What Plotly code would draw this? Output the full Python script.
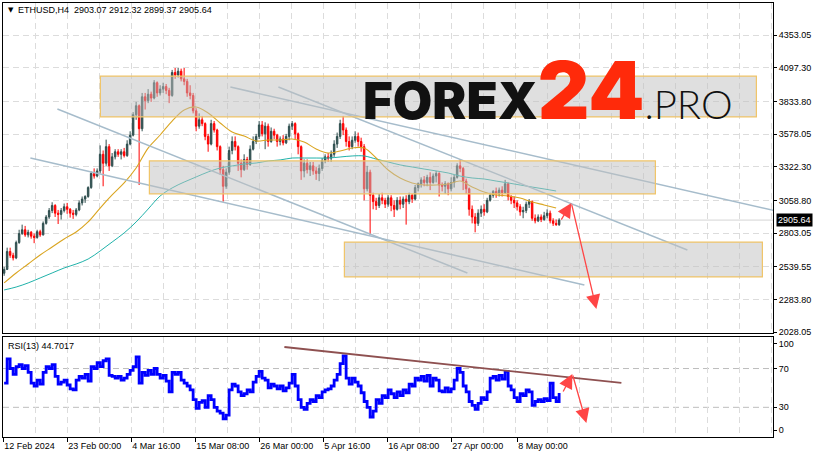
import pandas as pd
import plotly.graph_objects as go

# ---------------- data ----------------
bar_start = "2024-02-12 12:00"   # 12h bars
opens = [2490,2520,2660,2630,2610,2730,2800,2830,2790,2810,
         2780,2770,2815,2790,2880,2930,2980,3020,2960,2950,
         2980,3010,2990,2960,2950,2985,3040,3070,3090,3160,
         3270,3250,3290,3420,3350,3480,3330,3400,3440,3420,
         3440,3410,3500,3570,3730,3800,3620,3870,3840,3890,
         3860,3980,3900,3930,3950,3920,3880,4060,4040,4070,
         4010,3990,3900,3880,3760,3640,3690,3660,3560,3500,
         3660,3610,3480,3300,3170,3280,3450,3520,3480,3350,
         3300,3380,3340,3460,3520,3560,3650,3580,3640,3520,
         3600,3570,3520,3540,3510,3560,3640,3660,3580,3480,
         3290,3350,3300,3330,3290,3270,3310,3370,3400,3390,
         3420,3500,3560,3660,3610,3520,3480,3530,3560,3520,
         3480,3150,3280,3100,3050,3020,3080,3060,3030,3080,
         3020,2990,3060,3030,3070,3050,3100,3070,3160,3190,
         3220,3200,3240,3200,3250,3270,3180,3170,3190,3150,
         3200,3240,3330,3310,3210,3150,2990,2930,2880,2960,
         2990,2970,3060,3100,3130,3110,3140,3120,3190,3090,
         3060,3040,3010,2970,2980,3030,3050,2920,2900,2930,
         2910,2940,2960,2900,2880,2870]
highs = [2540,2690,2690,2650,2745,2830,2870,2860,2830,2820,
         2800,2830,2830,2895,2945,3000,3045,3030,2985,3000,
         3035,3040,3000,2985,3000,3060,3090,3100,3170,3285,
         3310,3310,3490,3450,3535,3500,3430,3460,3460,3460,
         3470,3530,3600,3750,3830,3810,3900,3900,3930,3910,
         4000,3990,3960,3980,3970,3940,4080,4095,4095,4090,
         4095,4010,3960,3900,3780,3740,3720,3670,3580,3690,
         3680,3620,3490,3330,3310,3480,3560,3560,3490,3380,
         3420,3400,3490,3560,3580,3680,3680,3670,3660,3630,
         3620,3580,3560,3570,3580,3660,3680,3670,3590,3490,
         3380,3380,3360,3360,3320,3340,3390,3420,3430,3450,
         3530,3590,3690,3720,3630,3560,3560,3600,3590,3550,
         3500,3330,3300,3120,3080,3110,3120,3080,3100,3100,
         3060,3085,3090,3090,3100,3120,3110,3180,3200,3240,
         3250,3260,3280,3270,3290,3280,3200,3210,3200,3240,
         3260,3350,3380,3320,3230,3160,3020,2960,2990,3020,
         3030,3080,3120,3140,3160,3160,3170,3220,3200,3100,
         3090,3060,3030,3010,3050,3070,3060,2950,2950,2950,
         2970,2990,2980,2920,2910,2920]
lows = [2470,2515,2610,2590,2600,2720,2790,2775,2770,2760,
        2725,2760,2775,2785,2870,2915,2960,2930,2875,2910,
        2965,2955,2925,2915,2935,2975,3020,3040,3080,3150,
        3230,3240,3270,3170,3330,3290,3320,3380,3400,3380,
        3395,3400,3490,3560,3690,3180,3600,3770,3820,3830,
        3850,3870,3880,3900,3890,3820,3870,4010,4020,3990,
        3960,3870,3850,3740,3600,3620,3640,3530,3440,3490,
        3590,3450,3260,3050,3150,3260,3420,3450,3290,3240,
        3290,3300,3330,3450,3500,3540,3560,3460,3480,3510,
        3540,3480,3490,3490,3500,3530,3610,3540,3420,3220,
        3240,3270,3250,3260,3220,3210,3290,3350,3360,3360,
        3400,3470,3540,3570,3480,3450,3460,3510,3480,3440,
        3060,3130,2790,2990,2985,3000,3030,3000,3010,2975,
        2930,2980,2990,3000,2870,3030,3040,3060,3130,3160,
        3170,3170,3140,3190,3200,3090,3130,3110,3100,3130,
        3160,3230,3280,3140,3110,2940,2880,2810,2860,2930,
        2940,2960,3050,3080,3080,3090,3090,3110,3060,3030,
        3000,2980,2940,2920,2960,3000,2900,2880,2890,2890,
        2900,2920,2880,2860,2860,2860]
closes = [2520,2660,2630,2610,2730,2800,2830,2790,2810,2780,
          2770,2815,2790,2880,2930,2980,3020,2960,2950,2980,
          3010,2990,2960,2950,2985,3040,3070,3090,3160,3270,
          3250,3290,3420,3350,3480,3330,3400,3440,3420,3440,
          3410,3500,3570,3730,3800,3620,3870,3840,3890,3860,
          3980,3900,3930,3950,3920,3880,4060,4040,4070,4010,
          3990,3900,3880,3760,3640,3690,3660,3560,3500,3660,
          3610,3480,3300,3170,3280,3450,3520,3480,3350,3300,
          3380,3340,3460,3520,3560,3650,3580,3640,3520,3600,
          3570,3520,3540,3510,3560,3640,3660,3580,3480,3290,
          3350,3300,3330,3290,3270,3310,3370,3400,3390,3420,
          3500,3560,3660,3610,3520,3480,3530,3560,3520,3480,
          3150,3280,3100,3050,3020,3080,3060,3030,3080,3020,
          2990,3060,3030,3070,3050,3100,3070,3160,3190,3220,
          3200,3240,3200,3250,3270,3180,3170,3190,3150,3200,
          3240,3330,3310,3210,3150,2990,2930,2880,2960,2990,
          2970,3060,3100,3130,3110,3140,3120,3190,3090,3060,
          3040,3010,2970,2980,3030,3050,2920,2900,2930,2910,
          2940,2960,2900,2880,2870,2905.64]
rsi = [55,80,70,64,72,74,70,73,66,55,
       52,58,54,66,72,70,74,62,54,56,
       58,53,49,48,58,62,60,64,57,72,
       70,76,72,78,80,63,62,60,62,58,
       60,64,68,72,82,55,66,63,68,64,
       70,64,60,63,57,46,66,64,66,58,
       55,52,48,38,29,35,37,30,42,38,
       30,26,24,18,22,48,54,52,46,42,
       44,48,46,56,62,67,60,58,50,54,
       52,49,52,47,50,55,64,52,38,30,
       28,34,38,36,42,40,46,48,49,52,
       58,64,75,83,60,54,60,56,52,45,
       36,30,20,26,38,34,42,40,48,44,
       40,46,42,48,45,54,52,60,58,62,
       57,63,52,60,58,47,46,50,46,49,
       58,70,66,52,46,36,32,28,34,40,
       38,46,60,62,58,63,59,67,52,48,
       40,36,44,42,48,46,32,36,38,36,
       39,37,55,40,36,44.7]

ma_start = "2024-02-12 12:00"   # every 48h
ma_fast = [2414,2492,2562,2633,2695,2758,2812,2891,3000,3102,
           3196,3313,3469,3571,3680,3767,3790,3743,3665,3594,
           3563,3524,3532,3532,3540,3516,3462,3430,3446,3469,
           3469,3391,3297,3235,3196,3180,3180,3188,3211,3164,
           3125,3102,3094,3078,3047,3024,3000]
ma_slow = [2359,2382,2414,2453,2492,2531,2562,2601,2664,2734,
           2805,2891,2992,3094,3157,3203,3243,3282,3313,3329,
           3344,3352,3368,3376,3391,3391,3391,3391,3399,3407,
           3407,3383,3360,3337,3321,3305,3290,3274,3250,3235,
           3227,3211,3196,3180,3164,3149,3133]

last_price = 2905.64
rsi_last = "44.7017"
ohlc_title = "ETHUSD,H4  2903.07 2912.32 2899.37 2905.64"

price_ticks = [4353.05, 4097.30, 3833.80, 3578.05, 3322.30, 3058.80,
               2803.05, 2539.55, 2283.80, 2028.05]
rsi_tick_pos = [95.3, 70, 30, 6.6]
rsi_tick_text = ["100", "70", "30", "0"]
rsi_levels = [70, 30]
time_ticks = ["2024-02-12 08:00", "2024-02-23 00:00", "2024-03-04 16:00",
              "2024-03-15 08:00", "2024-03-26 00:00", "2024-04-05 16:00",
              "2024-04-16 08:00", "2024-04-27 00:00", "2024-05-08 00:00"]
time_labels = ["12 Feb 2024", "23 Feb 00:00", "4 Mar 16:00", "15 Mar 08:00",
               "26 Mar 00:00", "5 Apr 16:00", "16 Apr 08:00", "27 Apr 00:00",
               "8 May 00:00"]

zones = [("2024-02-28 13:00", "2024-06-16 21:00", 3712, 4032),
         ("2024-03-07 17:00", "2024-05-31 01:00", 3110, 3368),
         ("2024-04-09 05:00", "2024-06-17 21:00", 2461, 2734)]
trend_lines = [("2024-02-16 21:00", 3391, "2024-05-19 05:00", 2398),
               ("2024-02-21 09:00", 3774, "2024-04-29 17:00", 2492),
               ("2024-03-21 05:00", 3946, "2024-06-21 17:00", 2961),
               ("2024-03-29 05:00", 3946, "2024-06-05 09:00", 2672)]
rsi_trend = ("2024-03-30 05:00", 92.2, "2024-05-25 09:00", 55.1)
price_arrows = [("2024-05-15 05:00", 2898, "2024-05-17 01:00", 3039),
                ("2024-05-17 01:00", 3039, "2024-05-21 05:00", 2210)]
rsi_arrows = [("2024-05-15 13:00", 44.7, "2024-05-17 05:00", 64.3),
              ("2024-05-17 05:00", 64.3, "2024-05-19 13:00", 13.8)]

x_range = ["2024-02-12 07:30", "2024-06-19 15:30"]
y_range = [2022.6, 4603.3]
rsi_range = [-0.6, 102.5]

# ---------------- figure ----------------
BULL = "#2f4f4f"
BEAR = "#ff0000"
FONT = "Liberation Sans"

dates = pd.date_range(bar_start, periods=len(closes), freq="12h")
ma_dates = pd.date_range(ma_start, periods=len(ma_fast), freq="48h")

W, H = 819, 458
ML, MR, MT, MB = 3, 46, 3, 21
PW, PH = W - ML - MR, H - MT - MB


def px_x(px):
    return (px - ML) / PW


def px_y(py):
    return (H - MB - py) / PH


fig = go.Figure()
fig.add_trace(go.Candlestick(
    x=dates, open=opens, high=highs, low=lows, close=closes,
    increasing=dict(line=dict(color=BULL, width=1), fillcolor=BULL),
    decreasing=dict(line=dict(color=BEAR, width=1), fillcolor=BEAR),
    whiskerwidth=0, hoverinfo="skip", showlegend=False,
    xaxis="x", yaxis="y"))
fig.add_trace(go.Scatter(x=ma_dates, y=ma_slow, mode="lines",
                         line=dict(color="#20b2aa", width=1, shape="spline"),
                         hoverinfo="skip", showlegend=False, xaxis="x", yaxis="y"))
fig.add_trace(go.Scatter(x=ma_dates, y=ma_fast, mode="lines",
                         line=dict(color="#daa520", width=1.1, shape="spline"),
                         hoverinfo="skip", showlegend=False, xaxis="x", yaxis="y"))
fig.add_trace(go.Scatter(x=dates, y=rsi, mode="lines",
                         line=dict(color="#0000ff", width=2.8, shape="hv"),
                         hoverinfo="skip", showlegend=False, xaxis="x2", yaxis="y2"))

shapes = []
shapes.append(dict(type="line", xref="x domain", yref="y", x0=0, x1=1,
                   y0=last_price, y1=last_price, layer="below",
                   line=dict(color="#d4d4d4", width=1)))
for lv in rsi_levels:
    shapes.append(dict(type="line", xref="x2 domain", yref="y2", x0=0, x1=1,
                       y0=lv, y1=lv, layer="below",
                       line=dict(color="#bdbdbd", width=1, dash="6px,4px")))
for (t0, p0, t1, p1) in trend_lines:
    shapes.append(dict(type="line", xref="x", yref="y", x0=t0, y0=p0, x1=t1, y1=p1,
                       layer="above", line=dict(color="#a6bccb", width=1.5)))
for (t0, t1, p0, p1) in zones:
    shapes.append(dict(type="rect", xref="x", yref="y", x0=t0, x1=t1, y0=p0, y1=p1,
                       layer="above", fillcolor="rgba(192,192,192,0.5)",
                       line=dict(color="#f0c468", width=1.2)))
shapes.append(dict(type="line", xref="x2", yref="y2",
                   x0=rsi_trend[0], y0=rsi_trend[1], x1=rsi_trend[2], y1=rsi_trend[3],
                   layer="above", line=dict(color="#8e5050", width=1.8)))

ann = []
ann.append(dict(text="▼", xref="paper", yref="paper", x=px_x(6), y=px_y(10),
                xanchor="left", yanchor="middle", showarrow=False,
                font=dict(family="DejaVu Sans", size=7, color="black")))
ann.append(dict(text=ohlc_title, xref="paper", yref="paper", x=px_x(16), y=px_y(10),
                xanchor="left", yanchor="middle", showarrow=False,
                font=dict(family=FONT, size=9, color="black")))
ann.append(dict(text="RSI(13) " + rsi_last, xref="paper", yref="paper",
                x=px_x(6), y=px_y(346), xanchor="left", yanchor="middle",
                showarrow=False, font=dict(family=FONT, size=9, color="black")))
ann.append(dict(text=f"{last_price:.2f}", xref="paper", yref="y", x=1, y=last_price,
                xanchor="left", yanchor="middle", xshift=3, showarrow=False,
                bgcolor="black", borderpad=1,
                font=dict(family=FONT, size=9, color="white")))
logo = ("<span style=\"font-family:Inter,Lato;font-weight:900\">FOREX</span>"
        "<span style=\"font-family:Inter,'DejaVu Sans';font-weight:900;font-size:80px;"
        "color:#ff2a0a\">24</span>"
        "<span style=\"font-family:Lato;font-weight:300;font-size:40px\">.PRO</span>")
ann.append(dict(text=logo, xref="paper", yref="paper", x=px_x(361), y=px_y(90),
                xanchor="left", yanchor="middle", showarrow=False,
                font=dict(family="Inter", size=51, color="#111111")))
for (t0, p0, t1, p1) in price_arrows:
    ann.append(dict(text="", x=t1, y=p1, ax=t0, ay=p0, xref="x", yref="y",
                    axref="x", ayref="y", showarrow=True, arrowhead=2,
                    arrowsize=2.2, arrowwidth=1.3, arrowcolor="#ff4545", standoff=0))
for (t0, p0, t1, p1) in rsi_arrows:
    ann.append(dict(text="", x=t1, y=p1, ax=t0, ay=p0, xref="x2", yref="y2",
                    axref="x2", ayref="y2", showarrow=True, arrowhead=2,
                    arrowsize=2.2, arrowwidth=1.3, arrowcolor="#ff4545", standoff=0))

grid_dash = "6px,4px"
minor_grid = dict(showgrid=True, gridcolor="#dcdcdc", griddash=grid_dash, gridwidth=1,
                  dtick=128 * 3600 * 1000, tick0="2024-02-12 08:00", ticks="")
common_x = dict(type="date", range=x_range, showline=True, mirror=True,
                linecolor="black", linewidth=1, showgrid=False, zeroline=False,
                tickmode="array", tickvals=time_ticks, minor=minor_grid)

fig.update_layout(
    width=W, height=H, autosize=False,
    margin=dict(l=ML, r=MR, t=MT, b=MB, pad=0),
    paper_bgcolor="white", plot_bgcolor="white",
    font=dict(family=FONT, size=9, color="black"),
    showlegend=False, hovermode=False,
    xaxis=dict(domain=[0, 1], anchor="y", showticklabels=False, ticks="",
               rangeslider=dict(visible=False), **common_x),
    xaxis2=dict(domain=[0, 1], anchor="y2", ticktext=time_labels,
                ticks="outside", ticklen=4, tickcolor="black",
                ticklabelposition="outside right",
                tickfont=dict(family=FONT, size=9, color="black"), **common_x),
    yaxis=dict(domain=[(H - MB - 333) / PH, 1], anchor="x", side="right",
               range=y_range, tickmode="array", tickvals=price_ticks,
               ticktext=[f"{v:.2f}" for v in price_ticks],
               ticks="outside", ticklen=3, tickcolor="black",
               showgrid=True, gridcolor="#dcdcdc", griddash=grid_dash, gridwidth=1,
               showline=True, mirror=True, linecolor="black", linewidth=1,
               zeroline=False, tickfont=dict(family=FONT, size=9, color="black")),
    yaxis2=dict(domain=[0, (H - MB - 337) / PH], anchor="x2", side="right",
                range=rsi_range, tickmode="array", tickvals=rsi_tick_pos,
                ticktext=rsi_tick_text, ticks="outside", ticklen=3, tickcolor="black",
                showgrid=False, showline=True, mirror=True, linecolor="black",
                linewidth=1, zeroline=False,
                tickfont=dict(family=FONT, size=9, color="black")),
    shapes=shapes, annotations=ann,
)

fig.write_html("out.html", config={"displayModeBar": False},
               post_script="document.body.style.margin='0px';"
                           "document.body.style.padding='0px';")
